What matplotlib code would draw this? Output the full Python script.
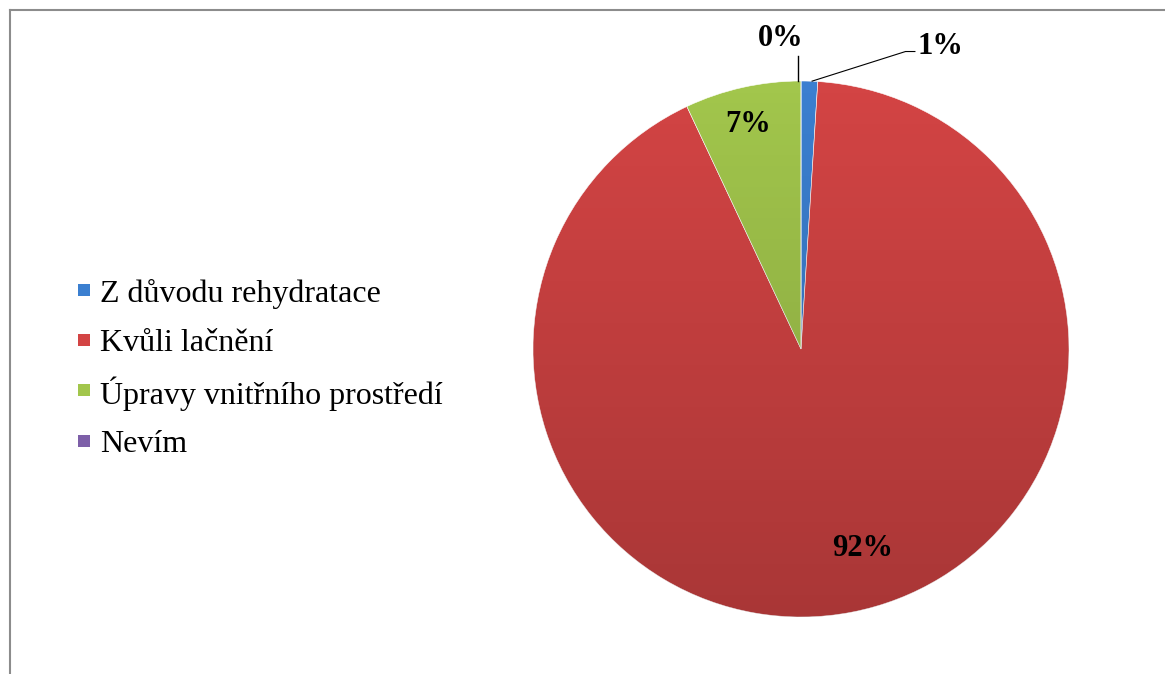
import matplotlib
matplotlib.use('Agg')
import matplotlib.pyplot as plt
import numpy as np
from matplotlib.lines import Line2D
from matplotlib.patches import Circle, Rectangle

plt.rcParams['font.family'] = ['Liberation Serif', 'DejaVu Serif']

categories = ['Z důvodu rehydratace', 'Kvůli lačnění', 'Úpravy vnitřního prostředí', 'Nevím']
shares = [1, 92, 7, 0]
colors = ['#3b7fd0', '#d34444', '#a2c64c', '#7d5fa8']

W, H = 1165, 674
fig = plt.figure(figsize=(W / 100, H / 100), dpi=100)

# pie axes: centre (801, 349) px, radius 268 px
cx, cy, r = 801, 349, 268
ax = fig.add_axes([(cx - r) / W, (H - cy - r) / H, 2 * r / W, 2 * r / H])
wedges, _ = ax.pie(shares, colors=colors, startangle=90, counterclock=False,
                   radius=1, wedgeprops=dict(edgecolor='white', linewidth=0.4))
ax.set_xlim(-1, 1)
ax.set_ylim(-1, 1)
ax.set_aspect('equal')
ax.axis('off')

# soft top-to-bottom shading over the whole pie
grad = np.linspace(0, 1, 256).reshape(-1, 1)
shade = np.zeros((256, 1, 4))
shade[..., 3] = 0.20 * grad
im = ax.imshow(shade, extent=(-1, 1, -1, 1), origin='upper', aspect='auto', zorder=3)
im.set_clip_path(Circle((0, 0), 1, transform=ax.transData))

def mid_angle(w):
    return np.deg2rad((w.theta1 + w.theta2) / 2)

# inside labels for the large slices
inside = {1: (0.231, -0.743), 2: (-0.198, 0.836)}
for i, (x, y) in inside.items():
    ax.text(x, y, f'{shares[i]}%', ha='center', va='center',
            fontsize=22, fontweight='bold', zorder=5)

# outside labels with leader lines for the tiny slices
a = mid_angle(wedges[3])
ax.plot([np.cos(a) - 0.01, np.cos(a) - 0.01], [np.sin(a), 1.095], color='black', lw=1.0,
        zorder=5, clip_on=False)
ax.text(-0.075, 1.16, f'{shares[3]}%', ha='center', va='center', fontsize=22,
        fontweight='bold', clip_on=False)

a = mid_angle(wedges[0])
ax.plot([np.cos(a) + 0.01, 0.39, 0.425], [np.sin(a), 1.11, 1.11], color='black', lw=0.8,
        zorder=5, clip_on=False)
ax.text(0.435, 1.13, f'{shares[0]}%', ha='left', va='center', fontsize=22,
        fontweight='bold', clip_on=False)

# legend: small square keys with evenly spaced rows
row_y = [290, 340, 390, 441]
for name, c, y in zip(categories, colors, row_y):
    fig.add_artist(Rectangle((78 / W, (H - y - 6) / H), 12 / W, 12 / H,
                             facecolor=c, edgecolor='none'))
    fig.text(100 / W, (H - y) / H, name, ha='left', va='center_baseline', fontsize=23)

# frame lines on the left and top edges
fig.add_artist(Line2D([9.5 / W, 9.5 / W], [0, 1 - 10 / H], color='#8c8c8c', lw=1.5))
fig.add_artist(Line2D([9.5 / W, 1], [1 - 10 / H, 1 - 10 / H], color='#8c8c8c', lw=1.5))

fig.savefig('out.png', dpi=100, facecolor='white')
